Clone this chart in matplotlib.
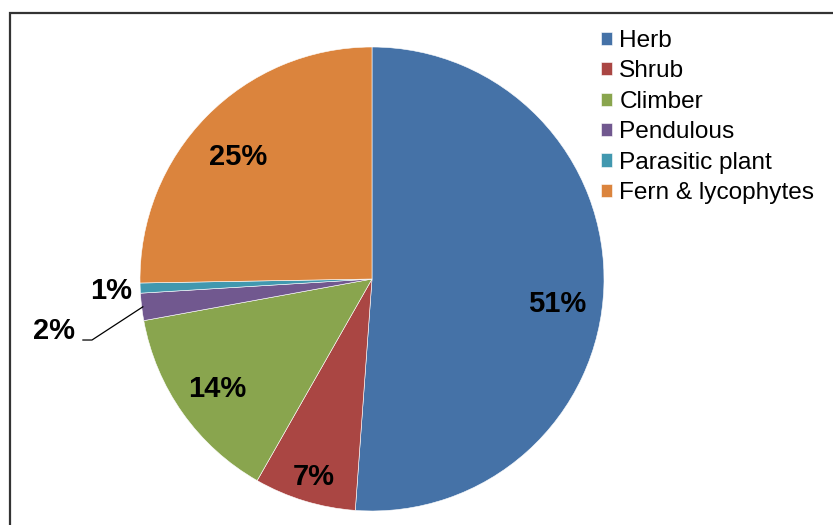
import numpy as np
import matplotlib.pyplot as plt
from matplotlib.patches import Rectangle

plt.rcParams['font.family'] = ['Liberation Sans', 'DejaVu Sans']

# life forms and their share (%)
labels = ['Herb', 'Shrub', 'Climber', 'Pendulous', 'Parasitic plant', 'Fern & lycophytes']
shares = [51.2, 7.1, 13.9, 1.9, 0.7, 25.3]
colors = ['#4572A7', '#AA4643', '#89A54E', '#71588F', '#4198AF', '#DB843D']

W, H = 833, 525
fig = plt.figure(figsize=(W / 100, H / 100), dpi=100)

# pie centre at (372, 279) px, radius 232 px
cx, cy, r = 372, 279, 232
ax = fig.add_axes([(cx - r) / W, (H - cy - r) / H, 2 * r / W, 2 * r / H])

wedges, texts, autotexts = ax.pie(
    shares, colors=colors, startangle=90, counterclock=False,
    autopct='%.0f%%', pctdistance=0.81,
    wedgeprops=dict(edgecolor='white', linewidth=0.4),
    textprops=dict(fontsize=21, fontweight='bold', color='black'))
ax.set_xlim(-1, 1)
ax.set_ylim(-1, 1)

def mid(w):
    return np.deg2rad((w.theta1 + w.theta2) / 2)

# nudge the in-slice labels the way the original sits them
lab_r = [0.80, 0.86, 0.82, None, None, 0.81]
lab_dy = [-0.08, -0.03, 0.0, None, None, -0.04]
for i, t in enumerate(autotexts):
    if lab_r[i] is None:
        continue
    a = mid(wedges[i])
    t.set_position((lab_r[i] * np.cos(a), lab_r[i] * np.sin(a) + lab_dy[i]))

# small slices get their labels outside
autotexts[4].set_position((-1.034, -0.052))
autotexts[4].set_ha('right')

a = mid(wedges[3])
ex, ey = 0.995 * np.cos(a), 0.995 * np.sin(a)
lx, ly = -1.246, -0.263
ax.plot([ex, -1.207, lx], [ey, ly, ly], color='black', lw=0.9, clip_on=False)
autotexts[3].set_position((-1.28, -0.224))
autotexts[3].set_ha('right')

fig.legend(wedges, labels, loc='upper left', bbox_to_anchor=(601 / W, 1 - 30 / H),
           frameon=False, fontsize=17.6, handlelength=0.45, handleheight=0.45,
           handletextpad=0.3, labelspacing=0.345, borderpad=0, borderaxespad=0)

# outer chart frame
fig.patches.append(Rectangle((9.5 / W, -0.1), 1.2, 1 - 12.5 / H + 0.1,
                             transform=fig.transFigure, fill=False,
                             edgecolor='#333333', lw=1.6))

fig.savefig('out.png', dpi=100)
